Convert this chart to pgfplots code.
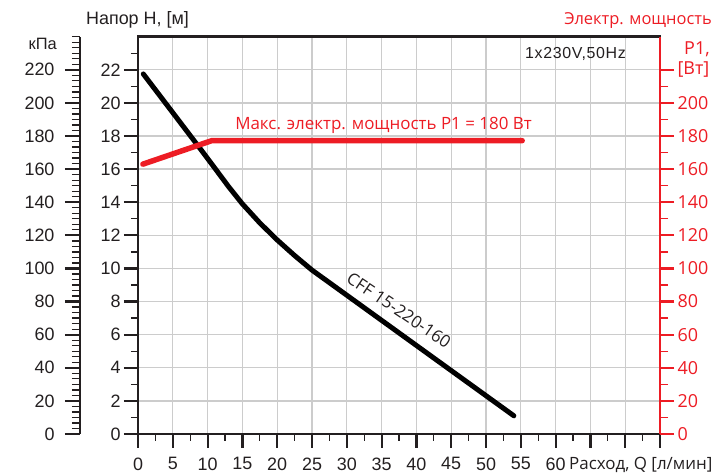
\documentclass[border=0pt]{standalone}
\usepackage{pgfplots}
\pgfplotsset{compat=1.18}
\usepackage{fontspec}
\setmainfont{Liberation Sans}
\newfontfamily\myr{Open Sans}
\newfontfamily\lsf[LetterSpace=4]{Liberation Sans}
\definecolor{pred}{HTML}{ED1C24}
\definecolor{axc}{HTML}{231F20}
\definecolor{gridc}{HTML}{CCCCCC}
\begin{document}
\begin{tikzpicture}[x=1bp,y=1bp]
\useasboundingbox (-138,-41) rectangle (582,434);
% kPa axis
\begin{axis}[
  at={(-58bp,0)}, anchor=south west,
  scale only axis, width=10bp, height=397.3bp,
  xmin=0, xmax=1, ymin=0, ymax=240,
  hide x axis, axis y line*=left,
  axis line style={axc, line width=2.2bp},
  tick align=outside,
  ytick={0,20,...,220},
  yticklabels={0,20,40,60,80,100,120,140,160,180,200,220},
  minor ytick={3.3333,6.6667,10,13.3333,16.6667,23.3333,26.6667,30,33.3333,36.6667,43.3333,46.6667,50,53.3333,56.6667,63.3333,66.6667,70,73.3333,76.6667,83.3333,86.6667,90,93.3333,96.6667,103.3333,106.6667,110,113.3333,116.6667,123.3333,126.6667,130,133.3333,136.6667,143.3333,146.6667,150,153.3333,156.6667,163.3333,166.6667,170,173.3333,176.6667,183.3333,186.6667,190,193.3333,196.6667,203.3333,206.6667,210,213.3333,216.6667,223.3333,226.6667,230,233.3333,236.6667,240},
  major tick length=15bp, minor tick length=8bp,
  major tick style={axc, line width=2.2bp},
  minor tick style={axc, line width=1.3bp},
  yticklabel style={font=\fontsize{18}{18}\selectfont, text=axc, xshift=-7bp},
]
\end{axis}
% main axis
\begin{axis}[
  at={(0,0)}, anchor=south west,
  scale only axis, width=522bp, height=397.3bp,
  xmin=0, xmax=75, ymin=0, ymax=24,
  axis line style={axc, line width=2.5bp},
  tick align=outside,
  xtick pos=bottom, ytick pos=left,
  xtick={0,5,...,75},
  xticklabels={0,5,10,15,20,25,30,35,40,45,50,55,60,,,},
  minor xtick={2.5,7.5,...,72.5},
  ytick={0,2,...,22},
  yticklabels={0,2,4,6,8,10,12,14,16,18,20,22},
  minor ytick={1,3,...,23},
  major tick length=14bp, minor tick length=7bp,
  major tick style={axc, line width=2.2bp},
  minor tick style={axc, line width=1.3bp},
  tick label style={font=\fontsize{18}{18}\selectfont, text=axc},
  xticklabel style={yshift=-6bp},
  grid=major,
  major grid style={gridc, line width=1.3bp},
]
\addplot[black, line width=5bp, line cap=round, line join=round] coordinates {
  (0.76,21.75) (9,17.2) (11,16.08) (13,14.95) (15,13.9) (17.5,12.75) (20,11.72) (22.5,10.78) (25,9.9) (54,1.1)
};
\end{axis}
% power axis (right)
\begin{axis}[
  at={(0,0)}, anchor=south west,
  scale only axis, width=522bp, height=397.3bp,
  xmin=0, xmax=75, ymin=0, ymax=240,
  hide x axis, axis y line*=right,
  axis line style={pred, line width=2.5bp},
  tick align=outside,
  ytick={0,20,...,220},
  yticklabels={0,20,40,60,80,100,120,140,160,180,200,[Вт]},
  minor ytick={10,30,...,210},
  major tick length=14bp, minor tick length=8bp,
  major tick style={pred, line width=2.2bp},
  minor tick style={pred, line width=1.3bp},
  yticklabel style={font=\myr\fontsize{18}{18}\selectfont, text=pred},
]
\addplot[pred, line width=5.5bp, line cap=round, line join=round] coordinates {
  (0.7,163) (10.6,177.2) (55.2,177.2)
};
\end{axis}
% texts
\node[anchor=base, text=axc, font=\fontsize{18}{18}\selectfont, inner sep=0pt] at (-0.5,409) {Напор H, [м]};
\node[anchor=base east, text=axc, font=\fontsize{16.5}{16.5}\selectfont, inner sep=0pt] at (-81,384) {кПа};
\node[anchor=base east, text=pred, font=\myr\fontsize{16.5}{16.5}\selectfont, inner sep=0pt] at (574,409) {Электр. мощность};
\node[anchor=base west, text=pred, font=\myr\fontsize{18}{18}\selectfont, inner sep=0pt] at (546,379) {P1,};
\node[anchor=base, text=pred, font=\myr\fontsize{17}{17}\selectfont, inner sep=0pt] at (245.5,304) {Макс. электр. мощность P1 = 180 Вт};
\node[anchor=base west, text=axc, font=\lsf\fontsize{16}{16}\selectfont, inner sep=0pt] at (387,375.7) {1x230V,50Hz};
\node[text=axc, font=\myr\fontsize{17}{17}\selectfont, rotate=-34, inner sep=0pt] at (261,124) {CFF 15-220-160};
\node[anchor=base west, text=axc, font=\myr\fontsize{17}{17}\selectfont, inner sep=0pt] at (431,-36) {Расход, Q [л/мин]};
\end{tikzpicture}
\end{document}
